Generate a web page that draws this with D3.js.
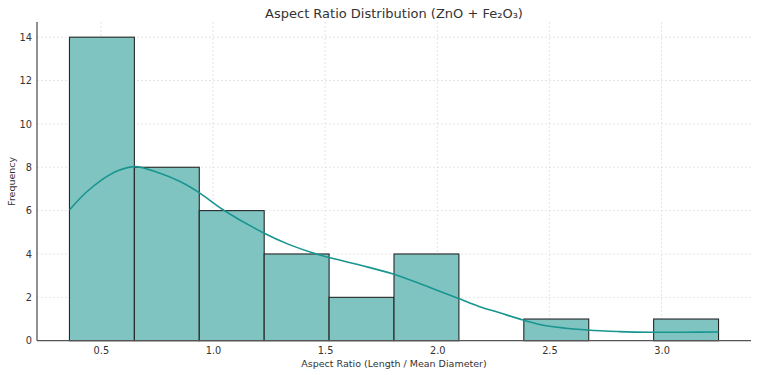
<!DOCTYPE html>
<html>
<head>
<meta charset="utf-8">
<script src="https://cdn.jsdelivr.net/npm/d3@7"></script>
<style>
  html, body { margin: 0; padding: 0; background: #fff; }
  svg { display: block; font-family: "DejaVu Sans", sans-serif; }
</style>
</head>
<body>
<svg id="chart" width="757" height="375"></svg>
<script>
// Histogram bins (aspect ratio) and counts
const binEdges = [0.36, 0.6494, 0.9388, 1.2282, 1.5176, 1.807, 2.0964, 2.3858, 2.6752, 2.9646, 3.254];
const counts = [14, 8, 6, 4, 2, 4, 0, 1, 0, 1];

// KDE curve (x value, count scale)
const kdeX = [0.36, 0.43, 0.504, 0.578, 0.653, 0.764, 0.853, 0.935, 1.046, 1.224, 1.343, 1.476, 1.654, 1.803, 1.951, 2.092, 2.189, 2.278, 2.382, 2.486, 2.671, 2.812, 2.96, 3.1, 3.254];
const kdeY = [6.03, 6.8, 7.42, 7.85, 8.03, 7.72, 7.34, 6.85, 6.03, 4.98, 4.42, 3.95, 3.49, 3.08, 2.52, 1.96, 1.57, 1.29, 0.955, 0.69, 0.49, 0.42, 0.39, 0.39, 0.4];

const xTicks = [0.5, 1.0, 1.5, 2.0, 2.5, 3.0];
const yTicks = [0, 2, 4, 6, 8, 10, 12, 14];

const title = "Aspect Ratio Distribution (ZnO + Fe\u2082O\u2083)";
const xLabel = "Aspect Ratio (Length / Mean Diameter)";
const yLabel = "Frequency";

const svg = d3.select("#chart");
const m = { left: 37, right: 751, top: 22, bottom: 340.7 };

const x = d3.scaleLinear().domain([0.2153, 3.3987]).range([m.left, m.right]);
const y = d3.scaleLinear().domain([0, 14.7]).range([m.bottom, m.top]);

// Grid
const grid = svg.append("g");
grid.selectAll("line.gx").data(xTicks).enter().append("line")
  .attr("x1", d => x(d)).attr("x2", d => x(d))
  .attr("y1", m.top).attr("y2", m.bottom)
  .attr("stroke", "#dedede").attr("stroke-width", 0.8).attr("stroke-dasharray", "2,2");
grid.selectAll("line.gy").data(yTicks).enter().append("line")
  .attr("y1", d => y(d)).attr("y2", d => y(d))
  .attr("x1", m.left).attr("x2", m.right)
  .attr("stroke", "#dedede").attr("stroke-width", 0.8).attr("stroke-dasharray", "2,2");

// Bars
const bins = counts.map((c, i) => ({ x0: binEdges[i], x1: binEdges[i + 1], c }));
svg.append("g").selectAll("rect").data(bins.filter(b => b.c > 0)).enter().append("rect")
  .attr("x", d => x(d.x0))
  .attr("width", d => x(d.x1) - x(d.x0))
  .attr("y", d => y(d.c))
  .attr("height", d => y(0) - y(d.c))
  .attr("fill", "#80c4c2")
  .attr("stroke", "#262626")
  .attr("stroke-width", 1.1);

// KDE line
const kde = kdeX.map((v, i) => [v, kdeY[i]]);
svg.append("path")
  .datum(kde)
  .attr("fill", "none")
  .attr("stroke", "#18958f")
  .attr("stroke-width", 1.6)
  .attr("d", d3.line().x(d => x(d[0])).y(d => y(d[1])).curve(d3.curveCatmullRom.alpha(0.5)));

// Axes
const xAxis = svg.append("g").attr("transform", `translate(0,${m.bottom})`)
  .call(d3.axisBottom(x).tickValues(xTicks).tickFormat(d3.format(".1f")).tickSize(0).tickPadding(6));
const yAxis = svg.append("g").attr("transform", `translate(${m.left},0)`)
  .call(d3.axisLeft(y).tickValues(yTicks).tickFormat(d3.format("d")).tickSize(0).tickPadding(5));
[xAxis, yAxis].forEach(a => {
  a.select(".domain").attr("stroke", "#555").attr("stroke-width", 1.3);
  a.selectAll("text").attr("fill", "#333").style("font-size", "9.8px").style("font-family", "DejaVu Sans, sans-serif");
});
xAxis.select(".domain").attr("d", `M${m.left},0H${m.right}`);
yAxis.select(".domain").attr("d", `M0,${m.top}V${m.bottom}`);

// Labels
svg.append("text").attr("x", 394).attr("y", 17.5).attr("text-anchor", "middle")
  .attr("fill", "#333").style("font-size", "13px").text(title);
svg.append("text").attr("x", 394).attr("y", 367).attr("text-anchor", "middle")
  .attr("fill", "#333").style("font-size", "9.5px").text(xLabel);
svg.append("text").attr("transform", `translate(15,${(m.top + m.bottom) / 2}) rotate(-90)`)
  .attr("text-anchor", "middle").attr("fill", "#333").style("font-size", "9.5px").text(yLabel);
</script>
</body>
</html>
